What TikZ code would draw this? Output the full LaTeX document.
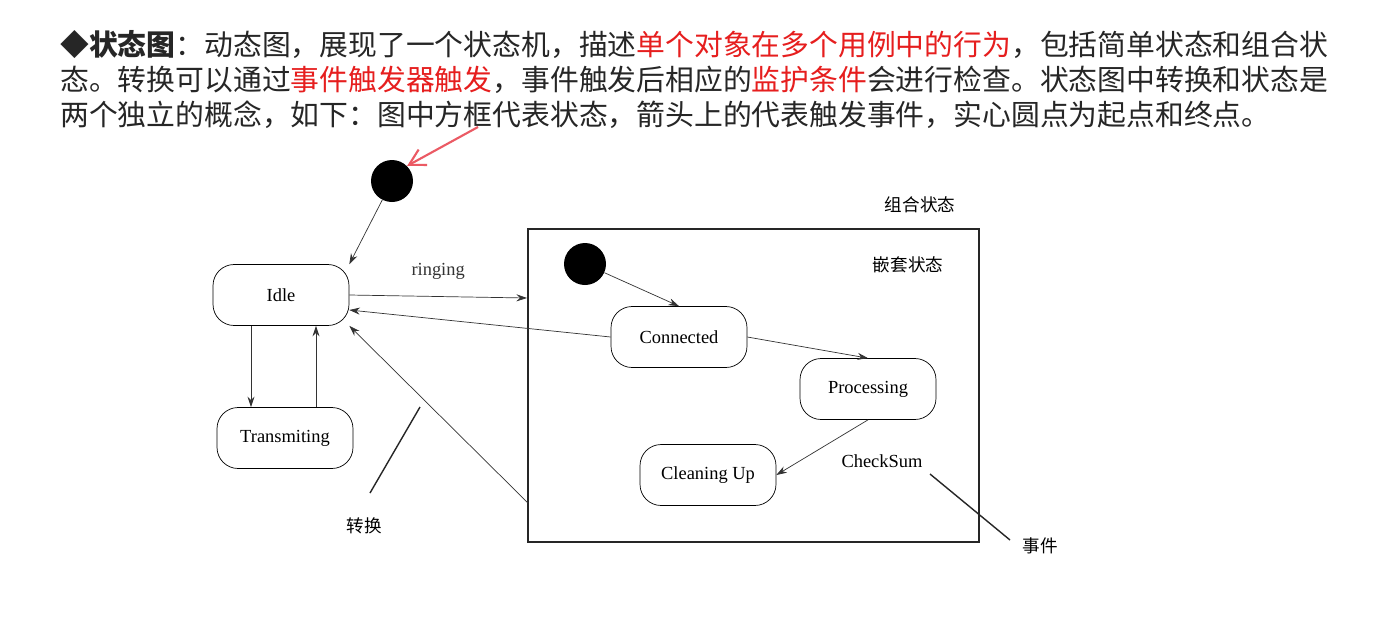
\documentclass[tikz,border=0pt]{standalone}
\usepackage{fontspec}
\setmainfont{Liberation Serif}
\newfontfamily\cjk{Noto Sans CJK SC}
\usetikzlibrary{arrows.meta}
\definecolor{hired}{RGB}{230,30,30}
\definecolor{penpink}{RGB}{235,90,100}
\newcommand*{\headstyle}{\cjk\fontsize{16.4}{20}\selectfont\color{black!85}}
\newcommand*{\notestyle}{\cjk\fontsize{10}{12}\selectfont}
\tikzset{
  state/.style = {draw, rounded corners=12pt, minimum width=2.72cm,
     minimum height=1.22cm, font=\fontsize{10.5}{12}\selectfont},
  dot/.style = {circle, fill=black, minimum size=0.84cm, inner sep=0pt},
  trans/.style = {-{Stealth[length=6pt,width=4pt]}, black!80},
  line/.style = {thick, black!85}
}
\begin{document}
\begin{tikzpicture}[x=0.02cm, y=-0.02cm]
   \useasboundingbox (0,0) rectangle (1379,640);
   \fill[white] (0,0) rectangle (1379,640);

   % text above the picture
   \node[anchor=base west, inner sep=0, font=\headstyle] (line1) at (60,55)
      {◆\textbf{状态图}：动态图，展现了一个状态机，描述\textcolor{hired}{单个对象在多个用例中的行为}，包括简单状态和组合状};
   \node[anchor=base west, inner sep=0, font=\headstyle] (line2) at (60,90)
      {态。转换可以通过\textcolor{hired}{事件触发器触发}，事件触发后相应的\textcolor{hired}{监护条件}会进行检查。状态图中转换和状态是};
   \node[anchor=base west, inner sep=0, font=\headstyle] (line3) at (60,125)
      {两个独立的概念，如下：图中方框代表状态，箭头上的代表触发事件，实心圆点为起点和终点。};

   % states
   \node[dot] (start) at (392,181) {};
   \node[state] (idle) at (281,295) {Idle};
   \node[state] (trans) at (285,438) {Transmiting};
   \draw[thick, black!85] (528,229) rectangle (979,542);
   \coordinate (boxw) at (527,298);
   \coordinate (boxsw) at (528,503);
   \node[dot] (inner) at (585,264) {};
   \node[state] (conn) at (679,337) {Connected};
   \node[state] (proc) at (868,389) {Processing};
   \node[state] (clean) at (708,475) {Cleaning Up};

   % transitions
   \draw[trans] (start) -- (idle.north east);
   \draw[trans] (idle.east) -- node[above=6pt, font=\fontsize{10.5}{12}\selectfont] (ringing) {ringing} (boxw);
   \draw[trans] (conn.west) -- ([yshift=-0.3cm]idle.east);
   \draw[trans] (boxsw) -- (idle.south east);
   \draw[trans] ([xshift=-0.6cm]idle.south) -- ([xshift=-0.6cm]idle.south |- trans.north);
   \draw[trans] ([xshift=0.7cm]idle.south |- trans.north) -- ([xshift=0.7cm]idle.south);
   \draw[trans] (inner) -- (conn.north);
   \draw[trans] (conn.east) -- (proc.north);
   \draw[trans] (proc.south) -- (clean.east);

   % notes
   \node[font=\notestyle] (combo) at (920,205) {组合状态};
   \node[font=\notestyle] (nest) at (908,265) {嵌套状态};
   \node[font=\fontsize{10.5}{12}\selectfont] (check) at (882,461) {CheckSum};
   \node[font=\notestyle] (zh) at (364,526) {转换};
   \node[font=\notestyle] (ev) at (1040,546) {事件};
   \coordinate (zhtop) at (420,407);
   \coordinate (zhbot) at (370,493);
   \coordinate (evtop) at (930,474);
   \coordinate (evbot) at (1010,540);
   \draw[line] (zhbot) -- (zhtop);
   \draw[line] (evtop) -- (evbot);

   % pen mark
   \coordinate (pen) at (478,127);
   \draw[penpink, very thick, -{Straight Barb[length=9pt,width=10pt]}] (pen) -- (start.north east);
\end{tikzpicture}
\end{document}
